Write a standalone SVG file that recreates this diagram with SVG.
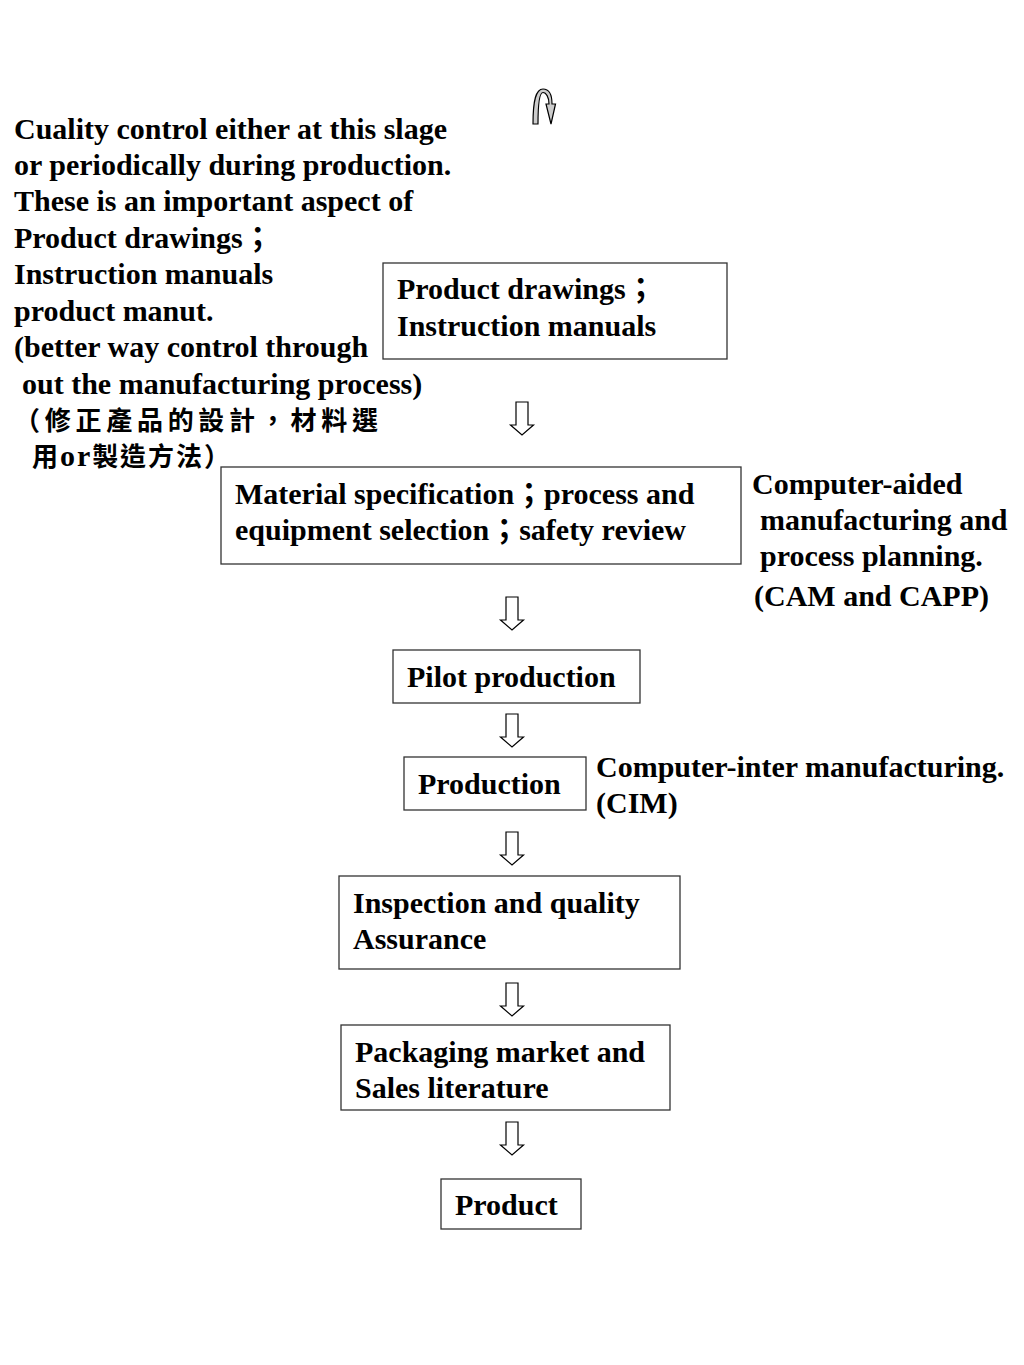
<svg xmlns="http://www.w3.org/2000/svg" xmlns:xlink="http://www.w3.org/1999/xlink" width="1024" height="1365" viewBox="0 0 1024 1365">
<style>
  text { font-family: "Liberation Serif", "Noto Sans CJK TC", serif; font-weight: bold; font-size: 30px; fill: #000; }
  .cjk { font-family: "Noto Sans CJK TC", "Liberation Serif", sans-serif; font-weight: bold; font-size: 26px; }
  .box { fill: #fff; stroke: #333; stroke-width: 1.3; }
  .arr { fill: #fff; stroke: #000; stroke-width: 1.2; }
</style>
<defs>
  <path id="down" d="M-6,0 H6 V23 H11.5 L0,33 L-11.5,23 H-6 Z"/>
</defs>
<rect width="1024" height="1365" fill="#fff"/>

<g id="loop-arrow">
  <path d="M533,124 C533,100 536,89 543,89 C549,89 552,95 552,104 L555.5,104 L551,124 L546,104 L549,104 C549,97 546,92.5 543,92.5 C540,92.5 538,100 538,124 Z" fill="#ccc" stroke="#000" stroke-width="1.2"/>
</g>

<g id="note-left">
  <text x="14" y="139">Cuality control either at this slage</text>
  <text x="14" y="175">or periodically during production.</text>
  <text x="14" y="211">These is an important aspect of</text>
  <text x="14" y="248">Product drawings；</text>
  <text x="14" y="284">Instruction manuals</text>
  <text x="14" y="321">product manut.</text>
  <text x="14" y="357">(better way control through</text>
  <text x="22" y="394">out the manufacturing process)</text>
  <text x="14" y="430" class="cjk" textLength="364" lengthAdjust="spacing">（修正產品的設計，材料選</text>
  <text x="32" y="466" textLength="198" lengthAdjust="spacing"><tspan class="cjk">用</tspan>or<tspan class="cjk">製造方法）</tspan></text>
</g>

<g id="node-drawings">
  <rect class="box" x="383" y="263" width="344" height="96"/>
  <text x="397" y="299">Product drawings；</text>
  <text x="397" y="336">Instruction manuals</text>
</g>

<g id="node-material">
  <rect class="box" x="221" y="467" width="520" height="97"/>
  <text x="235" y="504">Material specification；process and</text>
  <text x="235" y="540">equipment selection；safety review</text>
</g>

<g id="note-cam">
  <text x="752" y="494">Computer-aided</text>
  <text x="760" y="530">manufacturing and</text>
  <text x="760" y="566">process planning.</text>
  <text x="754" y="606">(CAM and CAPP)</text>
</g>

<g id="node-pilot">
  <rect class="box" x="393" y="650" width="247" height="53"/>
  <text x="407" y="687">Pilot production</text>
</g>

<g id="node-production">
  <rect class="box" x="404" y="757" width="182" height="53"/>
  <text x="418" y="794">Production</text>
</g>

<g id="note-cim">
  <text x="596" y="777">Computer-inter manufacturing.</text>
  <text x="596" y="813">(CIM)</text>
</g>

<g id="node-inspection">
  <rect class="box" x="339" y="876" width="341" height="93"/>
  <text x="353" y="913">Inspection and quality</text>
  <text x="353" y="949">Assurance</text>
</g>

<g id="node-packaging">
  <rect class="box" x="341" y="1025" width="329" height="85"/>
  <text x="355" y="1062">Packaging market and</text>
  <text x="355" y="1098">Sales literature</text>
</g>

<g id="node-product">
  <rect class="box" x="441" y="1179" width="140" height="50"/>
  <text x="455" y="1215">Product</text>
</g>

<g id="connectors">
  <use xlink:href="#down" class="arr" transform="translate(522,402)"/>
  <use xlink:href="#down" class="arr" transform="translate(512,597)"/>
  <use xlink:href="#down" class="arr" transform="translate(512,714)"/>
  <use xlink:href="#down" class="arr" transform="translate(512,832)"/>
  <use xlink:href="#down" class="arr" transform="translate(512,983)"/>
  <use xlink:href="#down" class="arr" transform="translate(512,1122)"/>
</g>
</svg>
